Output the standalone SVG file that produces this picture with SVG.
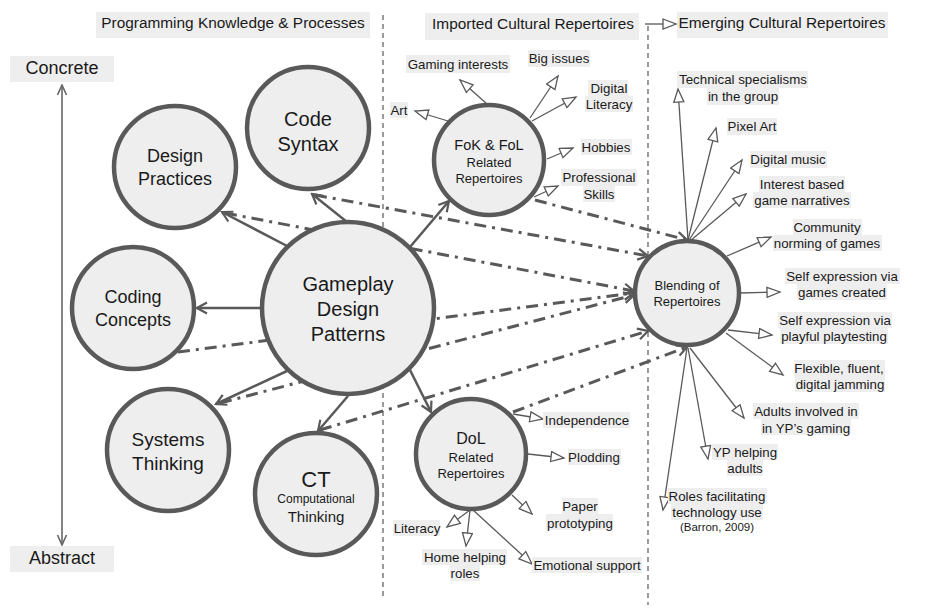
<svg xmlns="http://www.w3.org/2000/svg" width="948" height="612" viewBox="0 0 948 612">
<defs>
<style>
text{font-family:"Liberation Sans",Arial,sans-serif;fill:#1a1a1a;text-anchor:middle;dominant-baseline:central}
.node{fill:#eeeeee;stroke:#595959;stroke-width:4.5}
.bg{fill:#eeeeee}
.solid{stroke:#595959;stroke-width:2.5;fill:none;marker-end:url(#chev)}
.dd{stroke:#595959;stroke-width:3;fill:none;stroke-dasharray:12 6 3 6;marker-end:url(#chev)}
.thin{stroke:#595959;stroke-width:1.3;fill:none;marker-end:url(#tri)}
.sep{stroke:#595959;stroke-width:1.2;stroke-dasharray:5 4;fill:none}
.lab{font-size:13.3px}
.hdr{font-size:15.4px}
</style>
<marker id="chev" markerUnits="userSpaceOnUse" markerWidth="14" markerHeight="14" viewBox="0 0 14 14" refX="12" refY="7" orient="auto">
<path d="M2,1.5 L12,7 L2,12.5" fill="none" stroke="#595959" stroke-width="2.2"/>
</marker>
<marker id="tri" markerUnits="userSpaceOnUse" markerWidth="16" markerHeight="12" viewBox="0 0 16 12" refX="14" refY="6" orient="auto">
<path d="M1,1 L14,6 L1,11 Z" fill="#ffffff" stroke="#595959" stroke-width="1.3"/>
</marker>
<marker id="ax" markerUnits="userSpaceOnUse" markerWidth="12" markerHeight="12" viewBox="0 0 12 12" refX="11" refY="6" orient="auto">
<path d="M1,1.5 L11,6 L1,10.5" fill="none" stroke="#666666" stroke-width="1.6"/>
</marker>
</defs>

<g id="separators">
<line class="sep" x1="383" y1="15" x2="383" y2="600"/>
<line class="sep" x1="648" y1="26" x2="648" y2="605"/>
</g>

<g id="headers">
<rect class="bg" x="96" y="12" width="274" height="26"/>
<text class="hdr" x="233" y="22">Programming Knowledge &amp; Processes</text>
<rect class="bg" x="425" y="13" width="214" height="27"/>
<text class="hdr" x="533" y="23">Imported Cultural Repertoires</text>
<rect class="bg" x="677" y="12" width="211" height="26"/>
<text class="hdr" x="782" y="22">Emerging Cultural Repertoires</text>
</g>

<g id="axis">
<rect class="bg" x="10" y="56" width="104" height="26"/>
<text x="62" y="68" style="font-size:18px">Concrete</text>
<rect class="bg" x="10" y="546" width="104" height="26"/>
<text x="62" y="558" style="font-size:18px">Abstract</text>
<line x1="62" y1="300" x2="62" y2="85" stroke="#666666" stroke-width="1.6" marker-end="url(#ax)"/>
<line x1="62" y1="300" x2="62" y2="545" stroke="#666666" stroke-width="1.6" marker-end="url(#ax)"/>
</g>

<g id="connectors">
<line class="thin" x1="645" y1="24" x2="676" y2="24"/>
<line class="dd" x1="315" y1="195" x2="648" y2="256"/>
<line class="dd" x1="535" y1="200" x2="687" y2="240"/>
<line class="dd" x1="225" y1="213" x2="634" y2="291"/>
<line class="dd" x1="178" y1="352" x2="634" y2="293"/>
<line class="dd" x1="220" y1="403" x2="634" y2="295"/>
<line class="dd" x1="320" y1="430" x2="648" y2="331"/>
<line class="dd" x1="513" y1="412" x2="687" y2="347"/>
</g>

<g id="node-design-practices">
<circle class="node" cx="175" cy="167" r="61"/>
<text x="175" y="156" style="font-size:18px">Design</text>
<text x="175" y="179" style="font-size:18px">Practices</text>
</g>
<g id="node-code-syntax">
<circle class="node" cx="308" cy="128" r="61"/>
<text x="308" y="119" style="font-size:20px">Code</text>
<text x="308" y="144" style="font-size:20px">Syntax</text>
</g>
<g id="node-coding-concepts">
<circle class="node" cx="133" cy="308" r="61"/>
<text x="133" y="297" style="font-size:18px">Coding</text>
<text x="133" y="320" style="font-size:18px">Concepts</text>
</g>
<g id="node-systems-thinking">
<circle class="node" cx="168" cy="450" r="61"/>
<text x="168" y="439" style="font-size:19px">Systems</text>
<text x="168" y="463" style="font-size:19px">Thinking</text>
</g>
<g id="node-ct">
<circle class="node" cx="316" cy="494" r="61"/>
<text x="316" y="479" style="font-size:22px">CT</text>
<text x="316" y="499" style="font-size:12px">Computational</text>
<text x="316" y="516" style="font-size:15px">Thinking</text>
</g>

<g id="connectors-gdp">
<line class="solid" x1="347" y1="222" x2="312" y2="194"/>
<line class="solid" x1="287" y1="246" x2="222" y2="212"/>
<line class="solid" x1="262" y1="308" x2="197" y2="308"/>
<line class="solid" x1="287" y1="371" x2="216" y2="404"/>
<line class="solid" x1="348" y1="396" x2="318" y2="431"/>
<line class="solid" x1="410" y1="247" x2="449" y2="201"/>
<line class="solid" x1="410" y1="370" x2="431" y2="412"/>
</g>

<g id="node-gdp">
<circle class="node" cx="348" cy="308" r="86"/>
<text x="348" y="284" style="font-size:20px">Gameplay</text>
<text x="348" y="309" style="font-size:20px">Design</text>
<text x="348" y="334" style="font-size:20px">Patterns</text>
</g>

<g id="node-fok">
<circle class="node" cx="489" cy="160" r="55"/>
<text x="489" y="145" style="font-size:14.5px">FoK &amp; FoL</text>
<text x="489" y="162" style="font-size:13px">Related</text>
<text x="489" y="178" style="font-size:13px">Repertoires</text>
</g>
<g id="node-dol">
<circle class="node" cx="471" cy="454" r="55"/>
<text x="471" y="438" style="font-size:16px">DoL</text>
<text x="471" y="457" style="font-size:13px">Related</text>
<text x="471" y="473" style="font-size:13px">Repertoires</text>
</g>
<g id="node-blending">
<circle class="node" cx="687" cy="293" r="52"/>
<text x="687" y="285" style="font-size:13px">Blending of</text>
<text x="687" y="301" style="font-size:13px">Repertoires</text>
</g>

<g id="connectors-labels">
<line class="thin" x1="448" y1="121" x2="415" y2="111"/>
<line class="thin" x1="487" y1="104" x2="460" y2="80"/>
<line class="thin" x1="530" y1="118" x2="558" y2="76"/>
<line class="thin" x1="532" y1="121" x2="576" y2="97"/>
<line class="thin" x1="547" y1="159" x2="573" y2="148"/>
<line class="thin" x1="534" y1="197" x2="558" y2="186"/>
<line class="thin" x1="688" y1="240" x2="678" y2="89"/>
<line class="thin" x1="688" y1="240" x2="716" y2="128"/>
<line class="thin" x1="689" y1="240" x2="742" y2="160"/>
<line class="thin" x1="690" y1="241" x2="746" y2="194"/>
<line class="thin" x1="727" y1="256" x2="771" y2="237"/>
<line class="thin" x1="740" y1="293" x2="780" y2="292"/>
<line class="thin" x1="728" y1="330" x2="772" y2="335"/>
<line class="thin" x1="726" y1="333" x2="783" y2="375"/>
<line class="thin" x1="690" y1="348" x2="744" y2="418"/>
<line class="thin" x1="688" y1="348" x2="708" y2="459"/>
<line class="thin" x1="687" y1="348" x2="663" y2="510"/>
<line class="thin" x1="513" y1="414" x2="543" y2="419"/>
<line class="thin" x1="528" y1="454" x2="564" y2="458"/>
<line class="thin" x1="512" y1="495" x2="532" y2="514"/>
<line class="thin" x1="470" y1="510" x2="447" y2="527"/>
<line class="thin" x1="470" y1="510" x2="466" y2="546"/>
<line class="thin" x1="473" y1="510" x2="532" y2="564"/>
</g>

<g id="labels-fok">
<rect class="bg" x="406" y="55" width="104" height="18"/><text class="lab" x="458" y="64">Gaming interests</text>
<rect class="bg" x="528" y="50" width="62" height="17"/><text class="lab" x="559" y="58">Big issues</text>
<rect class="bg" x="588" y="80" width="40" height="16"/><text class="lab" x="609" y="88">Digital</text>
<rect class="bg" x="585" y="96" width="48" height="16"/><text class="lab" x="609" y="104">Literacy</text>
<rect class="bg" x="390" y="102" width="18" height="16"/><text class="lab" x="399" y="110">Art</text>
<rect class="bg" x="581" y="139" width="51" height="16"/><text class="lab" x="606" y="147">Hobbies</text>
<rect class="bg" x="561" y="169" width="76" height="17"/><text class="lab" x="599" y="177">Professional</text>
<rect class="bg" x="583" y="186" width="32" height="16"/><text class="lab" x="599" y="194">Skills</text>
</g>

<g id="labels-blending">
<rect class="bg" x="677" y="71" width="131" height="17"/><text class="lab" x="743" y="79">Technical specialisms</text>
<rect class="bg" x="707" y="88" width="72" height="17"/><text class="lab" x="743" y="96">in the group</text>
<rect class="bg" x="727" y="118" width="50" height="17"/><text class="lab" x="752" y="126">Pixel Art</text>
<rect class="bg" x="750" y="151" width="77" height="17"/><text class="lab" x="788" y="159">Digital music</text>
<rect class="bg" x="759" y="176" width="86" height="16"/><text class="lab" x="802" y="184">Interest based</text>
<rect class="bg" x="753" y="192" width="98" height="16"/><text class="lab" x="802" y="200">game narratives</text>
<rect class="bg" x="793" y="219" width="69" height="16"/><text class="lab" x="827" y="227">Community</text>
<rect class="bg" x="773" y="235" width="109" height="16"/><text class="lab" x="827" y="243">norming of games</text>
<rect class="bg" x="785" y="268" width="115" height="16"/><text class="lab" x="842" y="276">Self expression via</text>
<rect class="bg" x="797" y="284" width="90" height="16"/><text class="lab" x="842" y="292">games created</text>
<rect class="bg" x="778" y="312" width="114" height="16"/><text class="lab" x="835" y="320">Self expression via</text>
<rect class="bg" x="780" y="328" width="108" height="16"/><text class="lab" x="834" y="336">playful playtesting</text>
<rect class="bg" x="794" y="360" width="91" height="16"/><text class="lab" x="839" y="368">Flexible, fluent,</text>
<rect class="bg" x="795" y="376" width="90" height="16"/><text class="lab" x="840" y="384">digital jamming</text>
<rect class="bg" x="753" y="403" width="106" height="16"/><text class="lab" x="806" y="411">Adults involved in</text>
<rect class="bg" x="761" y="419" width="90" height="16"/><text class="lab" x="806" y="428">in YP’s gaming</text>
<rect class="bg" x="712" y="444" width="66" height="16"/><text class="lab" x="745" y="452">YP helping</text>
<rect class="bg" x="727" y="460" width="36" height="16"/><text class="lab" x="745" y="468">adults</text>
<rect class="bg" x="668" y="488" width="99" height="16"/><text class="lab" x="717" y="496">Roles facilitating</text>
<rect class="bg" x="671" y="504" width="92" height="16"/><text class="lab" x="717" y="512">technology use</text>
<text x="717" y="527" style="font-size:11.5px">(Barron, 2009)</text>
</g>

<g id="labels-dol">
<rect class="bg" x="543" y="412" width="87" height="16"/><text class="lab" x="587" y="420">Independence</text>
<rect class="bg" x="568" y="449" width="53" height="16"/><text class="lab" x="594" y="457">Plodding</text>
<rect class="bg" x="562" y="498" width="36" height="16"/><text class="lab" x="580" y="506">Paper</text>
<rect class="bg" x="546" y="514" width="67" height="16"/><text class="lab" x="580" y="523">prototyping</text>
<rect class="bg" x="393" y="520" width="47" height="16"/><text class="lab" x="417" y="528">Literacy</text>
<rect class="bg" x="422" y="549" width="85" height="16"/><text class="lab" x="465" y="557">Home helping</text>
<rect class="bg" x="450" y="565" width="30" height="16"/><text class="lab" x="465" y="573">roles</text>
<rect class="bg" x="532" y="557" width="110" height="16"/><text class="lab" x="587" y="565">Emotional support</text>
</g>
</svg>
